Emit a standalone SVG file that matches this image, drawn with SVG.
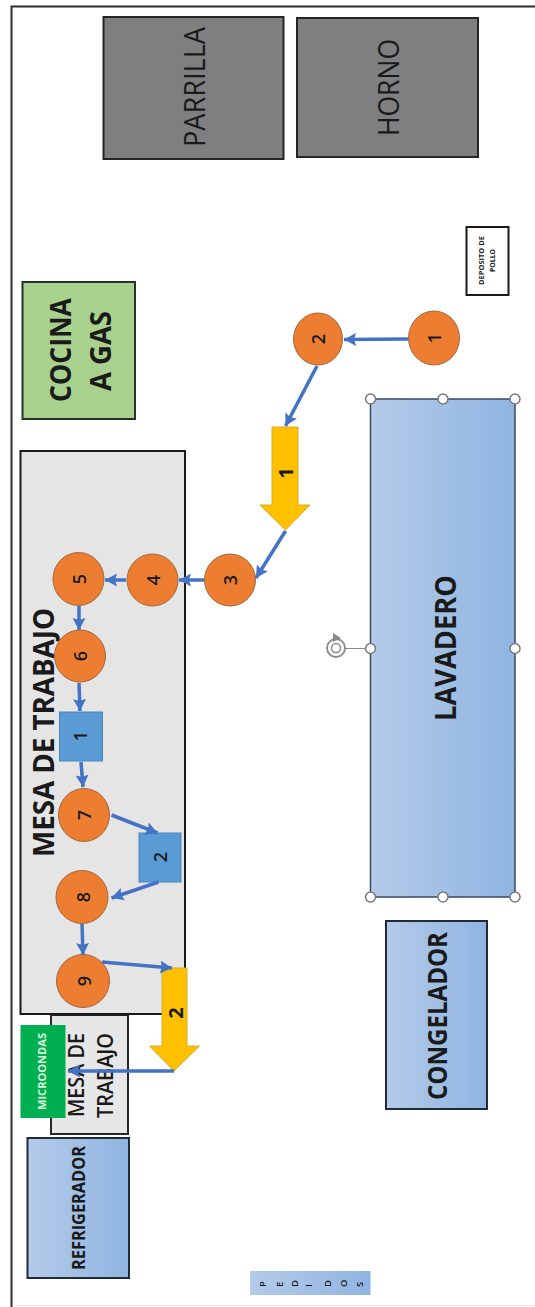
<svg xmlns="http://www.w3.org/2000/svg" width="535" height="1307" viewBox="0 0 535 1307">
<style>
text{font-family:"Open Sans","Liberation Sans",sans-serif;fill:#1a1a1a}
.b{font-weight:700}
.g{fill:#7f7f7f;stroke:#262626;stroke-width:2}
.blue{fill:url(#bg);stroke:#1f2a3a;stroke-width:2}
.c{fill:#ed7d31;stroke:#a3683f;stroke-width:1}
.s{fill:#5b9bd5;stroke:#4a86bd;stroke-width:1}
.y{fill:#ffc000;stroke:#d9ab2a;stroke-width:1}
.n{font-size:18px;text-anchor:middle;font-weight:600}
.h{fill:#fff;stroke:#7a7a7a;stroke-width:1.500}
.l{fill:none;stroke:#4472c4;stroke-width:3.500;marker-end:url(#a)}
</style>
<defs>
<linearGradient id="bg" x1="0" x2="1" y1="0" y2="0"><stop offset="0" stop-color="#b4cbe9"/><stop offset="1" stop-color="#8fb4e1"/></linearGradient>
<marker id="a" markerUnits="userSpaceOnUse" markerWidth="13" markerHeight="14" refX="12" refY="7" orient="auto"><path d="M0 0.500L12 7L0 13.500L2 7Z" fill="#4472c4"/></marker>
</defs>
<rect width="535" height="1307" fill="#fff"/>
<path id="frame" d="M535 6.500H11.500V1307" fill="none" stroke="#2e2e2e" stroke-width="2"/>
<path d="M14 1305.500H535" stroke="#e8e8e8" stroke-width="1" fill="none"/>
<g id="parrilla"><rect class="g" x="103.500" y="17" width="180" height="142"/><text transform="translate(205 147) rotate(-90)" font-size="29" textLength="120" lengthAdjust="spacingAndGlyphs" font-weight="500">PARRILLA</text></g>
<g id="horno"><rect class="g" x="297" y="18" width="181" height="139"/><text transform="translate(399 136) rotate(-90)" font-size="29" textLength="97" lengthAdjust="spacingAndGlyphs" font-weight="500">HORNO</text></g>
<g id="cocina"><rect x="22.500" y="282" width="112.500" height="137" fill="#a9d18e" stroke="#26332a" stroke-width="2"/><text class="b" transform="translate(71 402) rotate(-90)" font-size="29" textLength="104" lengthAdjust="spacingAndGlyphs">COCINA</text><text class="b" transform="translate(110.500 391) rotate(-90)" font-size="29" textLength="80" lengthAdjust="spacingAndGlyphs">A GAS</text></g>
<g id="deposito"><rect x="466.500" y="227" width="42" height="68" fill="#fff" stroke="#1a1a1a" stroke-width="2"/><text class="b" transform="translate(484 285) rotate(-90)" font-size="7" textLength="49" lengthAdjust="spacingAndGlyphs">DEPOSITO DE</text><text class="b" transform="translate(495 272) rotate(-90)" font-size="7" textLength="23" lengthAdjust="spacingAndGlyphs">POLLO</text></g>
<g id="lavadero"><rect x="370.500" y="399" width="144.500" height="498" fill="url(#bg)" stroke="#3b4a5e" stroke-width="1.500"/><text class="b" transform="translate(455.500 721) rotate(-90)" font-size="29" textLength="146" lengthAdjust="spacingAndGlyphs">LAVADERO</text>
<path d="M345 648.500H370.500" stroke="#8a8a8a" stroke-width="1" fill="none"/>
<circle class="h" cx="370.500" cy="399" r="5"/><circle class="h" cx="443" cy="399" r="5"/><circle class="h" cx="515" cy="399" r="5"/><circle class="h" cx="370.500" cy="648.500" r="5"/><circle class="h" cx="515" cy="648.500" r="5"/><circle class="h" cx="370.500" cy="897" r="5"/><circle class="h" cx="443" cy="897" r="5"/><circle class="h" cx="515" cy="897" r="5"/>
<circle cx="336" cy="648" r="9" fill="none" stroke="#8a8a8a" stroke-width="1.800"/><circle cx="336" cy="648" r="4.500" fill="none" stroke="#8a8a8a" stroke-width="1.500"/><path d="M333 633L341 638L333 642Z" fill="#8a8a8a"/></g>
<g id="congelador"><rect class="blue" x="386" y="921" width="101" height="188"/><text class="b" transform="translate(447 1100) rotate(-90)" font-size="27" textLength="168" lengthAdjust="spacingAndGlyphs">CONGELADOR</text></g>
<g id="mesa-pequena"><rect x="51" y="1015" width="77" height="119" fill="#e7e7e7" stroke="#262626" stroke-width="2"/><text transform="translate(84 1117) rotate(-90)" font-size="21" textLength="84" lengthAdjust="spacingAndGlyphs" font-weight="600">MESA DE</text><text transform="translate(113 1118) rotate(-90)" font-size="21" textLength="85" lengthAdjust="spacingAndGlyphs" font-weight="600">TRABAJO</text></g>
<g id="mesa"><rect x="20.500" y="451" width="164.500" height="563" fill="#e5e5e5" stroke="#1a1a1a" stroke-width="2"/><text transform="translate(54 857) rotate(-90)" font-size="29" textLength="249" lengthAdjust="spacingAndGlyphs" font-weight="700">MESA DE TRABAJO</text></g>
<g id="microondas"><rect x="20.500" y="1025" width="45" height="93" fill="#00b050"/><text transform="translate(46 1110) rotate(-90)" font-size="11" textLength="77" lengthAdjust="spacingAndGlyphs" font-weight="700" style="fill:#d8f5df">MICROONDAS</text></g>
<g id="refrigerador"><rect class="blue" x="27.500" y="1138" width="101.500" height="140"/><text class="b" transform="translate(85 1270) rotate(-90)" font-size="17" textLength="124" lengthAdjust="spacingAndGlyphs">REFRIGERADOR</text></g>
<g id="pedidos"><rect x="250" y="1271" width="120.500" height="24" fill="url(#bg)"/><text x="266 283 298 312 331 347 363" y="1287" rotate="-90" font-size="9.500" font-weight="600">PEDIDOS</text></g>
<g id="flecha-1"><path class="y" d="M272 427H298V505H310L285.500 530L260 505H272Z"/><text class="b" transform="translate(293 473) rotate(-90)" font-size="20" text-anchor="middle">1</text></g>
<g id="flecha-2"><path class="y" d="M162 968H187V1046H199.500L174 1071L149.500 1046H162Z"/><text class="b" transform="translate(183 1013) rotate(-90)" font-size="20" text-anchor="middle">2</text></g>
<g id="n1"><ellipse class="c" cx="434" cy="338" rx="25.500" ry="27"/><text class="n" transform="translate(441 338) rotate(-90)">1</text></g>
<g id="n2"><ellipse class="c" cx="318" cy="339" rx="24.500" ry="26"/><text class="n" transform="translate(325 339) rotate(-90)">2</text></g>
<g id="n3"><ellipse class="c" cx="230" cy="580" rx="25.500" ry="26"/><text class="n" transform="translate(237 580) rotate(-90)">3</text></g>
<g id="n4"><ellipse class="c" cx="152.500" cy="580" rx="25.500" ry="26"/><text class="n" transform="translate(160 580) rotate(-90)">4</text></g>
<g id="n5"><ellipse class="c" cx="78.500" cy="579" rx="25.500" ry="26.500"/><text class="n" transform="translate(86 579) rotate(-90)">5</text></g>
<g id="n6"><ellipse class="c" cx="80" cy="656" rx="25.500" ry="26"/><text class="n" transform="translate(87 656) rotate(-90)">6</text></g>
<g id="s1"><rect class="s" x="59.500" y="712" width="43" height="49"/><text class="n" transform="translate(87 736) rotate(-90)">1</text></g>
<g id="n7"><ellipse class="c" cx="84" cy="815" rx="25.500" ry="26.500"/><text class="n" transform="translate(91 815) rotate(-90)">7</text></g>
<g id="s2"><rect class="s" x="139" y="833" width="42" height="49"/><text class="n" transform="translate(167 857) rotate(-90)">2</text></g>
<g id="n8"><ellipse class="c" cx="82" cy="897" rx="26" ry="26.500"/><text class="n" transform="translate(90 897) rotate(-90)">8</text></g>
<g id="n9"><ellipse class="c" cx="83" cy="981" rx="26.500" ry="26.500"/><text class="n" transform="translate(91 981) rotate(-90)">9</text></g>
<g id="connectors">
<path class="l" d="M408 339L344 339.500"/>
<path class="l" d="M317 366L285.500 426"/>
<path class="l" d="M285.500 531L256 578"/>
<path class="l" d="M204 580L179 580"/>
<path class="l" d="M126 580L105 580"/>
<path class="l" d="M79 606L79 630"/>
<path class="l" d="M79 683L80 711"/>
<path class="l" d="M81 762L83 787"/>
<path class="l" d="M111.500 815L157.500 833"/>
<path class="l" d="M158.500 882L111.500 898"/>
<path class="l" d="M82 924L83 955"/>
<path class="l" d="M102 962L172 968"/>
<path class="l" d="M174 1071L68 1071"/>
</g>
</svg>
